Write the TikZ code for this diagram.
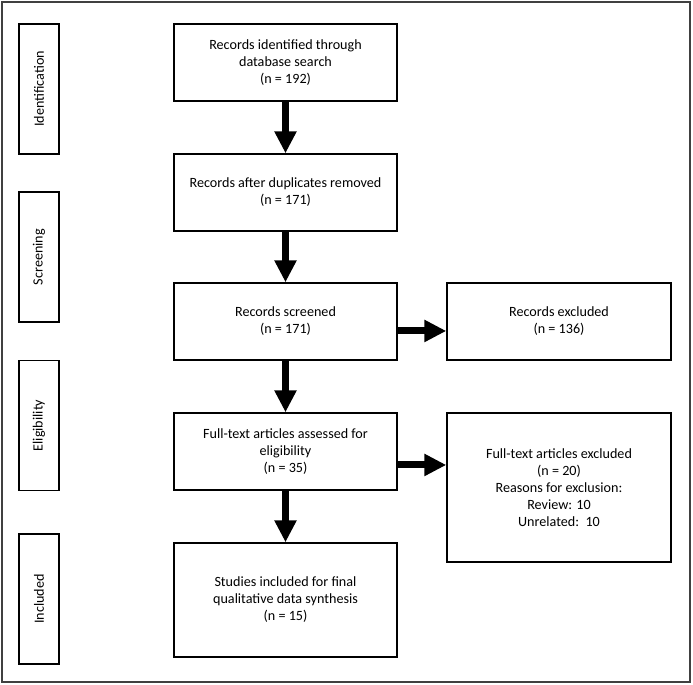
\documentclass[tikz,border=0pt]{standalone}
\usepackage{fontspec}
\setmainfont{Carlito}
\usetikzlibrary{arrows.meta}
\begin{document}
\begin{tikzpicture}[x=0.75pt,y=-0.75pt,
  box/.style={draw=black,line width=1.1pt,align=center,inner sep=0pt,
    font=\fontsize{10.6}{12.75}\selectfont,text=black},
  mainbox/.style={box,minimum width=167.25pt,minimum height=57.75pt},
  sidebox/.style={box,rotate=90,minimum width=97.5pt,minimum height=30pt},
  flow/.style={line width=5.25pt,-{Triangle[width=15.75pt,length=16.5pt]}}]
\useasboundingbox (0,0) rectangle (693,685);
\draw[draw=black!75,line width=1.3pt] (2,2) rectangle (690,682);
% side labels
\node[sidebox] (s1) at (39,89) {Identification};
\node[sidebox] (s2) at (39,257) {Screening};
\node[sidebox] (s3) at (39,425.5) {Eligibility};
\node[sidebox] (s4) at (39,599) {Included};
% main column
\node[mainbox] (b1) at (285.5,62.5) {Records identified through\\database search\\(n = 192)};
\node[mainbox] (b2) at (285.5,192.5) {Records after duplicates removed\\(n = 171)};
\node[mainbox] (b3) at (285.5,321.5) {Records screened\\(n = 171)};
\node[mainbox] (b4) at (285.5,451.5) {Full-text articles assessed for\\eligibility\\(n = 35)};
\node[mainbox,minimum height=85.5pt] (b5) at (285.5,600) {Studies included for final\\qualitative data synthesis\\(n = 15)};
% right column
\node[mainbox,minimum width=168pt] (e1) at (559,321.5) {Records excluded\\(n = 136)};
\node[mainbox,minimum width=168pt,minimum height=111.75pt] (e2) at (559,487.5) {Full-text articles excluded\\(n = 20)\\Reasons for exclusion:\\Review: 10\\Unrelated:\ \ 10};
% arrows
\draw[flow] (b1.south) -- (b2.north);
\draw[flow] (b2.south) -- (b3.north);
\draw[flow] (b3.south) -- (b4.north);
\draw[flow] (b4.south) -- (b5.north);
\draw[flow] ([yshift=-7.1pt]b3.east) -- ([yshift=-7.1pt]b3.east -| e1.west);
\draw[flow] ([yshift=-10.1pt]b4.east) -- ([yshift=-10.1pt]b4.east -| e2.west);
\end{tikzpicture}
\end{document}
